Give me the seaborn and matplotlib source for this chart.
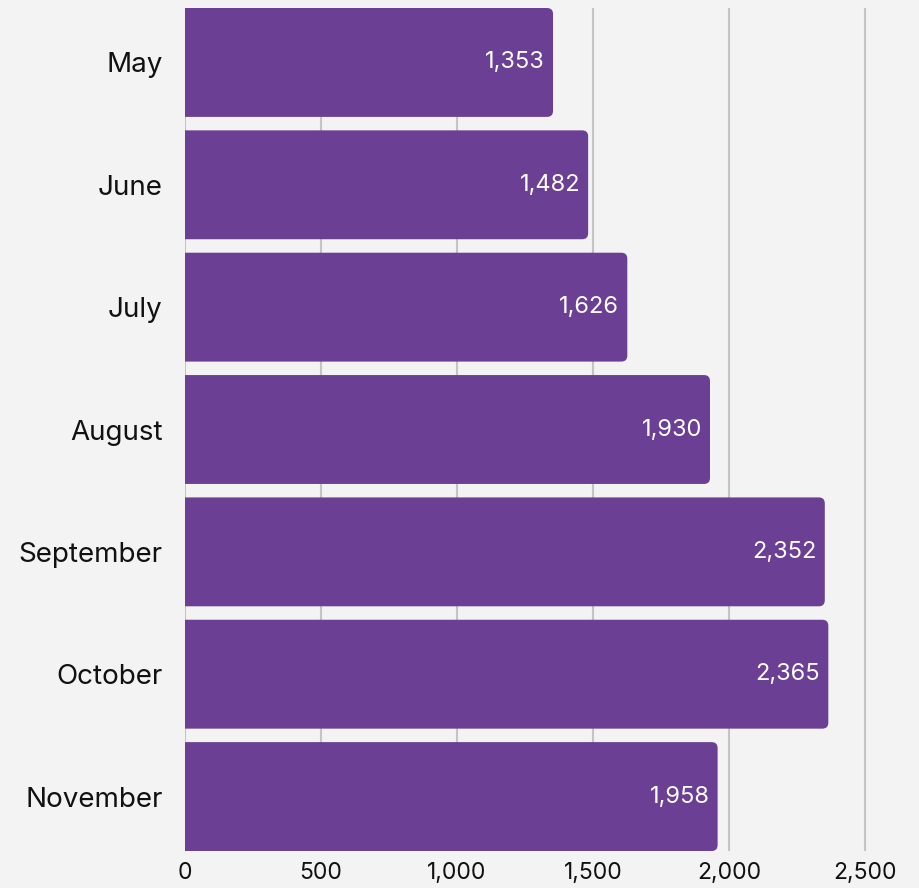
import numpy as np
import pandas as pd
import matplotlib
matplotlib.use("Agg")
import matplotlib.pyplot as plt
from matplotlib.patches import FancyBboxPatch
import seaborn as sns

# data
months = ["May", "June", "July", "August", "September", "October", "November"]
counts = [1353, 1482, 1626, 1930, 2352, 2365, 1958]
x_ticks = [0, 500, 1000, 1500, 2000, 2500]

df = pd.DataFrame({"month": months, "count": counts})

sns.set_style("white")
plt.rcParams["font.family"] = ["Inter", "DejaVu Sans"]

bg = "#f3f3f3"
bar_color = "#6b3f93"

fig = plt.figure(figsize=(9.2, 8.88), dpi=100, facecolor=bg)
# axes: left edge at 185px, top at 8px, bottom at 851px
ax = fig.add_axes([185 / 920, 1 - 851 / 888, 1 - 185 / 920, (851 - 8) / 888])
ax.set_facecolor(bg)

sns.barplot(data=df, x="count", y="month", color=bar_color, width=0.89,
            saturation=1, ax=ax, zorder=3)

ax.set_xlim(0, 2702)
ax.set_ylim(len(months) - 0.555, -0.445)

# rounded right corners
px_x = (920 - 185) / 2702
px_y = (851 - 8) / (len(months) - 0.11)
r = 6
for p in list(ax.patches):
    x0, y0 = p.get_x(), p.get_y()
    w, h = p.get_width(), p.get_height()
    p.remove()
    rx = r / px_x
    fb = FancyBboxPatch((x0 - rx, y0), w + rx, h,
                        boxstyle=f"round,pad=0,rounding_size={rx}",
                        mutation_aspect=px_x / px_y,
                        facecolor=bar_color, edgecolor="none", zorder=3)
    ax.add_patch(fb)

for i, v in enumerate(counts):
    ax.text(v - 8 / px_x, i, f"{v:,}", color="white", ha="right", va="center",
            fontsize=17, zorder=4)

ax.set_xticks(x_ticks)
ax.set_xticklabels([f"{t:,}" for t in x_ticks])
ax.grid(axis="x", color="#c4c4c4", linewidth=1.5, zorder=0)
ax.grid(axis="y", visible=False)
for s in ax.spines.values():
    s.set_visible(False)
ax.tick_params(axis="both", length=0, colors="#111111")
ax.tick_params(axis="y", pad=16, labelsize=20)
ax.tick_params(axis="x", pad=8, labelsize=16.5)
ax.set_xlabel("")
ax.set_ylabel("")

fig.savefig("out.png", dpi=100, facecolor=bg)
